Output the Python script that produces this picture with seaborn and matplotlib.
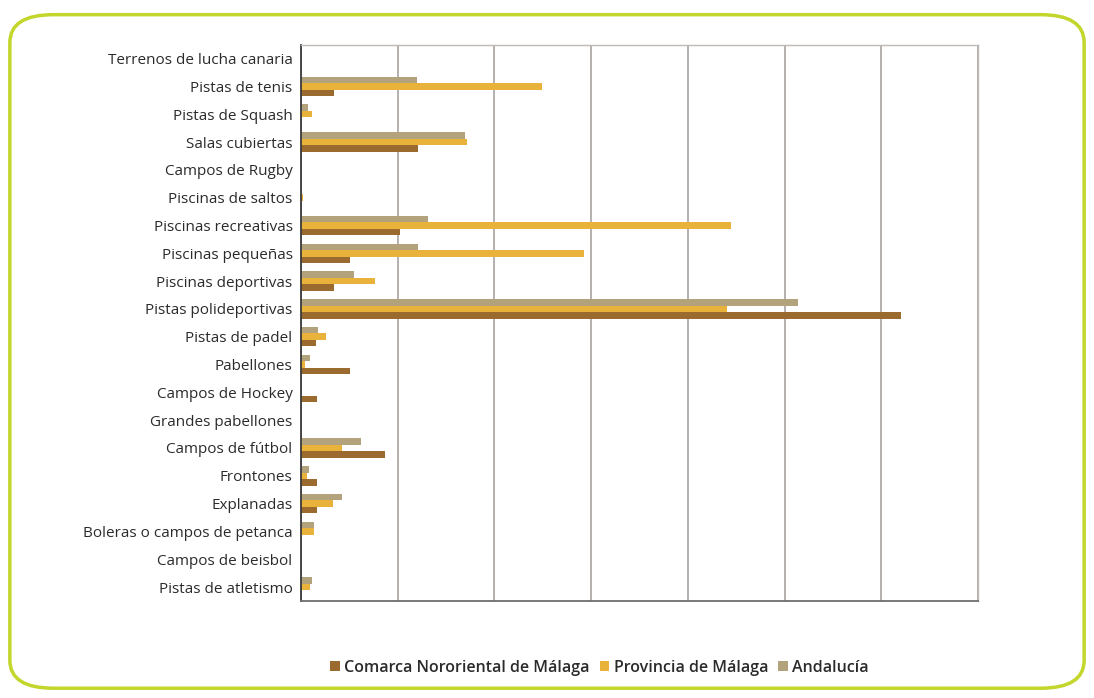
import seaborn as sns
import matplotlib.pyplot as plt
import pandas as pd
from matplotlib.patches import FancyBboxPatch, Patch

# categories top to bottom
categorias = ['Terrenos de lucha canaria', 'Pistas de tenis', 'Pistas de Squash',
              'Salas cubiertas', 'Campos de Rugby', 'Piscinas de saltos',
              'Piscinas recreativas', 'Piscinas pequeñas', 'Piscinas deportivas',
              'Pistas polideportivas', 'Pistas de padel', 'Pabellones',
              'Campos de Hockey', 'Grandes pabellones', 'Campos de fútbol',
              'Frontones', 'Explanadas', 'Boleras o campos de petanca',
              'Campos de beisbol', 'Pistas de atletismo']

# values (grid units, no scale shown)
comarca = [0, 0.34, 0, 1.21, 0, 0, 1.03, 0.51, 0.34, 6.20,
           0.16, 0.51, 0.17, 0, 0.87, 0.17, 0.17, 0, 0, 0]
provincia = [0, 2.49, 0.12, 1.72, 0, 0.02, 4.45, 2.93, 0.77, 4.41,
             0.26, 0.04, 0, 0, 0.43, 0.06, 0.33, 0.14, 0, 0.09]
andalucia = [0, 1.20, 0.07, 1.70, 0, 0, 1.31, 1.21, 0.55, 5.14,
             0.18, 0.09, 0.01, 0, 0.62, 0.08, 0.43, 0.14, 0, 0.12]

series = ['Comarca Nororiental de Málaga', 'Provincia de Málaga', 'Andalucía']
colores = {'Comarca Nororiental de Málaga': '#9a6a2e',
           'Provincia de Málaga': '#e9b23a',
           'Andalucía': '#b3a37c'}

rows = []
for i, c in enumerate(categorias):
    rows.append((c, series[0], comarca[i]))
    rows.append((c, series[1], provincia[i]))
    rows.append((c, series[2], andalucia[i]))
df = pd.DataFrame(rows, columns=['cat', 'serie', 'valor'])

sns.set_style('white')
plt.rcParams['font.family'] = ['Open Sans', 'DejaVu Sans']

fig = plt.figure(figsize=(10.94, 6.98), dpi=100)
fig.patch.set_facecolor('white')

# rounded green frame
frame = FancyBboxPatch((0.009, 0.014), 0.982, 0.965,
                       boxstyle='round,pad=0,rounding_size=0.04',
                       transform=fig.transFigure, facecolor='none',
                       edgecolor='#c3d62c', linewidth=2.5, zorder=-1)
fig.patches.append(frame)

ax = fig.add_axes([0.275, 0.139, 0.619, 0.797])
ax.set_facecolor('none')

sns.barplot(data=df, y='cat', x='valor', hue='serie', orient='h',
            order=categorias, hue_order=series[::-1], palette=colores,
            width=0.7, linewidth=0, saturation=1, legend=False, ax=ax)

ax.set_xlim(0, 7)
ax.set_ylim(len(categorias) - 0.5, -0.5)
ax.set_xticks(range(8))
ax.set_xticklabels([])
ax.grid(axis='x', color='#a8a3a0', linewidth=1.2)
ax.set_axisbelow(True)
ax.set_xlabel('')
ax.set_ylabel('')

ax.set_yticks(range(len(categorias)))
ax.set_yticklabels(categorias, fontsize=11, color='#2b2b2b')
ax.set_yticks([i - 0.5 for i in range(len(categorias) + 1)], minor=True)
ax.tick_params(axis='y', which='major', length=0, pad=6)
ax.tick_params(axis='y', which='minor', length=4, width=1.2, color='#3a3a3a', direction='out')
ax.tick_params(axis='x', which='major', length=4, width=1.2, color='#6e6e6e', direction='out')

for s in ['top', 'right']:
    ax.spines[s].set_color('#bdb9b6')
    ax.spines[s].set_linewidth(1)
ax.spines['left'].set_color('#3a3a3a')
ax.spines['left'].set_linewidth(1.3)
ax.spines['bottom'].set_color('#6e6e6e')
ax.spines['bottom'].set_linewidth(1.3)

handles = [Patch(facecolor=colores[s], edgecolor='none') for s in series]
fig.legend(handles, series, loc='center', bbox_to_anchor=(0.548, 0.043),
           ncol=3, frameon=False, handlelength=0.6, handleheight=0.6,
           handletextpad=0.3, columnspacing=0.6,
           prop={'size': 11.5, 'weight': 'semibold'}, labelcolor='#2b2b2b')

fig.savefig('out.png', dpi=100, facecolor='white')
